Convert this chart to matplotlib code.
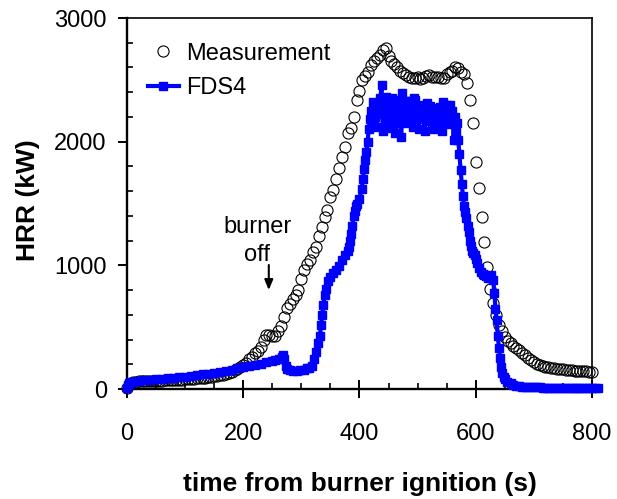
import numpy as np
import matplotlib
matplotlib.use("Agg")
import matplotlib.pyplot as plt
from matplotlib.ticker import MultipleLocator

plt.rcParams['font.family'] = ['Liberation Sans', 'DejaVu Sans']

# Measured heat release rate, sampled every 5 s
meas_time = np.arange(0, 801, 5)
meas_hrr = [
    10, 40, 55, 60, 62, 63, 64, 65, 66, 66,
    67, 68, 68, 69, 70, 71, 72, 73, 74, 76,
    78, 80, 82, 84, 86, 88, 90, 93, 96, 99,
    102, 106, 110, 115, 122, 130, 140, 152, 165, 180,
    195, 210, 240, 260, 290, 310, 340, 400, 437, 440,
    425, 430, 470, 510, 580, 655, 690, 730, 760, 800,
    890, 960, 1010, 1045, 1105, 1150, 1240, 1310, 1390, 1450,
    1550, 1610, 1700, 1790, 1876, 1957, 2070, 2110, 2200, 2340,
    2410, 2500, 2530, 2563, 2620, 2650, 2676, 2700, 2740, 2757,
    2690, 2650, 2630, 2600, 2575, 2555, 2540, 2523, 2515, 2515,
    2523, 2510, 2515, 2530, 2539, 2523, 2520, 2523, 2515, 2518,
    2550, 2563, 2575, 2604, 2596, 2563, 2545, 2474, 2337, 2150,
    1836, 1625, 1391, 1189, 986, 809, 695, 598, 520, 470,
    421, 390, 370, 350, 332, 312, 292, 272, 250, 234,
    222, 206, 194, 186, 180, 175, 171, 168, 164, 161,
    158, 155, 153, 150, 148, 146, 144, 143, 142, 141,
    140,
]

# FDS4 prediction
fds_time = [
    0, 2, 4, 7, 10, 20, 30, 40, 50, 60,
    70, 80, 90, 100, 110, 120, 130, 140, 150, 160,
    170, 180, 190, 200, 210, 220, 230, 240, 250, 255,
    262, 266, 269, 271, 273, 276, 280, 286, 292, 298,
    304, 310, 314, 318, 322, 326, 329, 332, 334, 336,
    338, 340, 342, 346, 350, 355, 360, 365, 370, 375,
    380, 382, 384, 386, 388, 390, 392, 394, 396, 400,
    404, 406, 408, 410, 412, 414, 416, 418, 420, 422,
    424, 426, 428, 430, 432, 434, 436, 438, 440, 442,
    444, 446, 448, 450, 452, 454, 456, 458, 460, 462,
    464, 466, 468, 470, 472, 474, 476, 478, 480, 482,
    484, 486, 488, 490, 492, 494, 496, 498, 500, 502,
    504, 506, 508, 510, 512, 514, 516, 518, 520, 522,
    524, 526, 528, 530, 532, 534, 536, 538, 540, 542,
    544, 546, 548, 550, 552, 554, 556, 558, 560, 562,
    564, 566, 568, 570, 572, 574, 576, 578, 580, 582,
    584, 586, 588, 590, 592, 594, 596, 598, 600, 603,
    606, 609, 612, 615, 618, 621, 624, 627, 630, 632,
    634, 636, 638, 640, 642, 644, 646, 648, 650, 654,
    660, 665, 670, 675, 680, 685, 690, 695, 700, 705,
    710, 715, 720, 725, 730, 735, 740, 745, 750, 755,
    760, 765, 770, 775, 780, 785, 790, 795, 800, 805,
    810,
]
fds_hrr = [
    5, 30, 45, 53, 58, 65, 70, 75, 79, 84,
    88, 92, 96, 100, 106, 112, 118, 125, 132, 140,
    148, 157, 166, 176, 186, 196, 205, 215, 226, 232,
    245, 262, 275, 240, 190, 160, 150, 146, 147, 150,
    156, 168, 172, 185, 240, 300, 370, 430, 520, 600,
    680, 760, 810, 870, 905, 935, 960, 995, 1045, 1080,
    1120, 1150, 1200, 1250, 1320, 1400, 1440, 1480, 1500, 1540,
    1620, 1700, 1780, 1850, 1920, 2000, 2100, 2180, 2250, 2150,
    2320, 2200, 2300, 2120, 2280, 2220, 2350, 2460, 2090, 2300,
    2250, 2360, 2150, 2330, 2200, 2110, 2350, 2250, 2310, 2070,
    2280, 2200, 2340, 2150, 2040, 2390, 2240, 2330, 2180, 2260,
    2150, 2330, 2220, 2290, 2120, 2350, 2340, 2190, 2280, 2100,
    2230, 2300, 2180, 2260, 2090, 2240, 2310, 2170, 2230, 2290,
    2120, 2210, 2100, 2270, 2190, 2240, 2150, 2280, 2200, 2090,
    2320, 2170, 2230, 2300, 2140, 2210, 2300, 2150, 2250, 2013,
    2200, 2080, 2150, 2010, 1900, 1770, 1660, 1560, 1480, 1430,
    1380, 1320, 1270, 1200, 1160, 1120, 1100, 1080, 1050, 1020,
    980, 950, 930, 920, 910, 900, 910, 920, 880, 780,
    650, 560, 430, 330, 250, 180, 130, 100, 80, 60,
    45, 35, 28, 24, 20, 18, 16, 15, 14, 13,
    13, 12, 12, 12, 11, 11, 11, 10, 10, 10,
    10, 10, 10, 10, 10, 10, 10, 10, 10, 10,
    10,
]

x_ticks = [0, 200, 400, 600, 800]
y_ticks = [0, 1000, 2000, 3000]

fig = plt.figure(figsize=(6.17, 4.99), dpi=100)
ax = fig.add_axes([0.2058, 0.2204, 0.7536, 0.7435])

ax.plot(meas_time, meas_hrr, linestyle='none', marker='o', mfc='none',
        mec='black', ms=8, mew=0.8, label='Measurement', clip_on=False, zorder=2)
ax.plot(fds_time, fds_hrr, '-s', color=(0, 0, 1), lw=3, ms=5.2,
        label='FDS4', clip_on=False, zorder=3)

ax.set_xlim(0, 800)
ax.set_ylim(0, 3000)
ax.set_xticks(x_ticks)
ax.set_yticks(y_ticks)
ax.xaxis.set_minor_locator(MultipleLocator(50))
ax.yaxis.set_minor_locator(MultipleLocator(200))

ax.tick_params(axis='x', which='major', direction='inout', length=13, width=1.4,
               labelsize=17, pad=18)
ax.tick_params(axis='x', which='minor', direction='in', length=4.3, width=1.2)
ax.tick_params(axis='y', which='major', direction='out', length=6.5, width=1.4,
               labelsize=17, pad=8)
ax.tick_params(axis='y', which='minor', direction='in', length=4.3, width=1.2)

for side in ['left', 'bottom']:
    ax.spines[side].set_linewidth(1.7)
for side in ['top', 'right']:
    ax.spines[side].set_linewidth(1.2)

ax.set_xlabel('time from burner ignition (s)', fontsize=19, fontweight='bold')
ax.xaxis.set_label_coords(0.5, -0.225)
ax.set_ylabel('HRR (kW)', fontsize=19, fontweight='bold')
ax.yaxis.set_label_coords(-0.187, 0.51)

ax.legend(loc='upper left', bbox_to_anchor=(0.045, 0.934), frameon=False,
          fontsize=17, handlelength=1.3, handletextpad=0.3, borderpad=0,
          borderaxespad=0, labelspacing=0.55, numpoints=1)

ax.text(224, 1200, 'burner\noff', ha='center', va='center', fontsize=17,
        linespacing=1.35)
ax.annotate('', xy=(244, 800), xytext=(244, 1003),
            arrowprops=dict(arrowstyle='-|>,head_length=0.6,head_width=0.25',
                            color='black', lw=1.5, shrinkA=0, shrinkB=0))

fig.savefig('out.png', dpi=100)
